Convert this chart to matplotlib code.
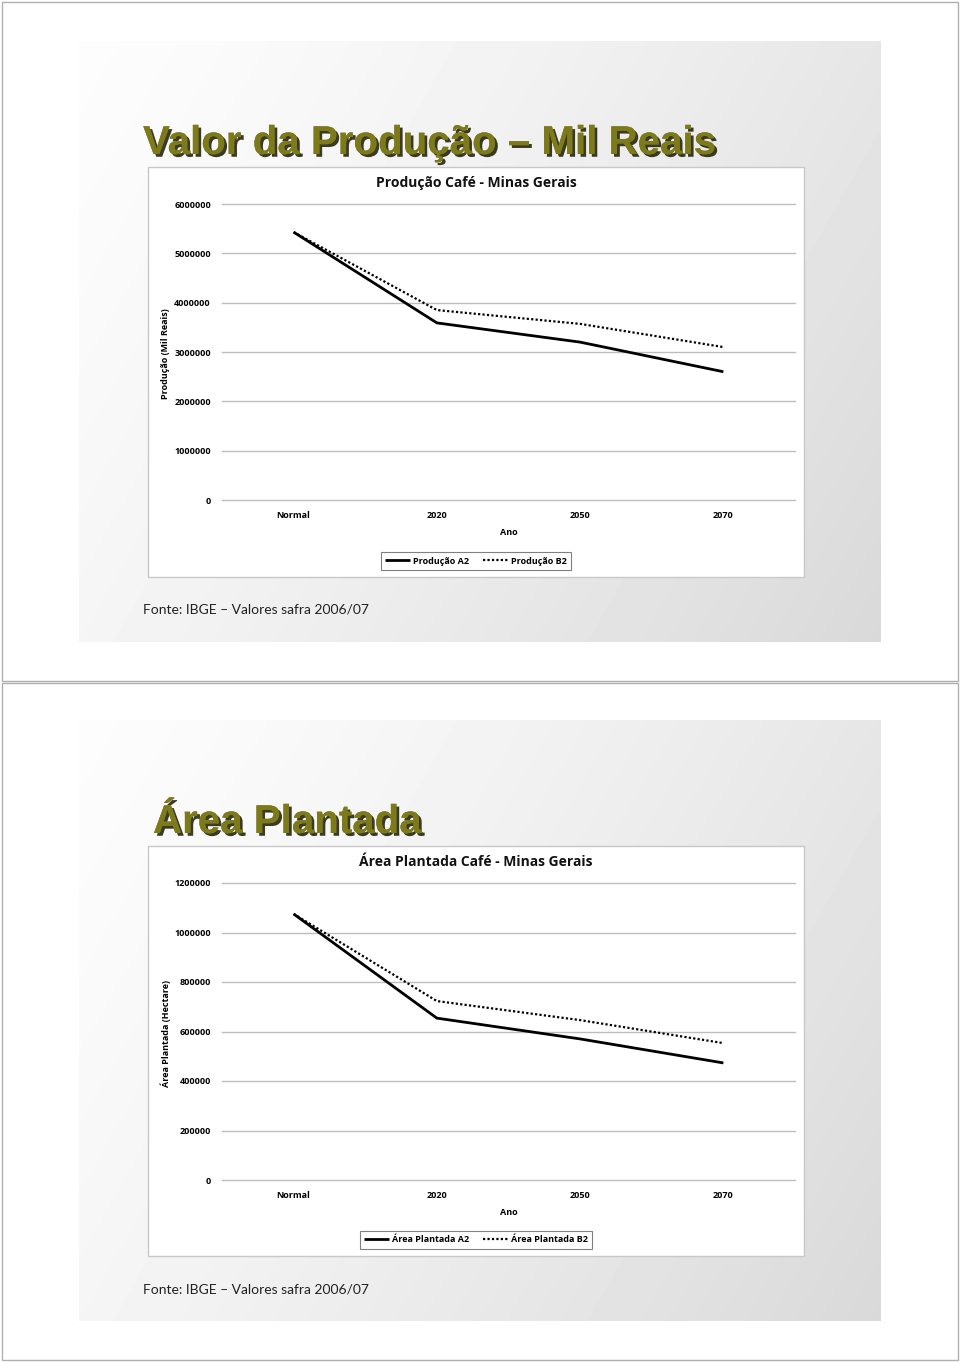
import numpy as np
import matplotlib
matplotlib.use('Agg')
import matplotlib.pyplot as plt
import matplotlib.patheffects as pe
from matplotlib.patches import Rectangle

# Data
categorias = ['Normal', '2020', '2050', '2070']
producao_a2 = [5430000, 3590000, 3200000, 2600000]
producao_b2 = [5430000, 3850000, 3570000, 3100000]
area_a2 = [1075000, 654000, 570000, 473000]
area_b2 = [1075000, 723000, 646000, 553000]

ticks_prod = [0, 1000000, 2000000, 3000000, 4000000, 5000000, 6000000]
ticks_area = [0, 200000, 400000, 600000, 800000, 1000000, 1200000]

W, H = 960, 1362
fig = plt.figure(figsize=(W / 100, H / 100), dpi=100)

# background axes in pixel coordinates
bg = fig.add_axes([0, 0, 1, 1], zorder=-1)
bg.set_xlim(0, W)
bg.set_ylim(H, 0)
bg.axis('off')

# page frames
bg.add_patch(Rectangle((2, 2), 956, 679, fill=False, edgecolor='#b0b0b0', lw=1))
bg.add_patch(Rectangle((2, 683), 956, 677, fill=False, edgecolor='#b0b0b0', lw=1))

# gray gradient for each slide
gx, gy = np.meshgrid(np.linspace(0, 1, 200), np.linspace(0, 1, 200))
grad = 0.99 - 0.14 * (0.7 * gx + 0.3 * gy) ** 1.3
for top in (41, 720):
    bg.imshow(grad, cmap='gray', vmin=0, vmax=1, extent=(79, 881, top + 601, top),
              aspect='auto', interpolation='bilinear')

titulos = ['Valor da Produção – Mil Reais', 'Área Plantada']
titulo_pos = [(143, 143), (153, 822)]
sombra = [pe.withSimplePatchShadow(offset=(2, -2), shadow_rgbFace='#1a1a00', alpha=0.85),
          pe.Normal()]
for t, (x, y) in zip(titulos, titulo_pos):
    bg.text(x, y, t, fontsize=29, fontweight='bold', family='Liberation Sans',
            color='#7d7a1c', va='center', ha='left', path_effects=sombra)

# chart boxes
for top in (167, 846):
    bg.add_patch(Rectangle((148, top), 656, 410, facecolor='white', edgecolor='#c8c8c8', lw=1))

for y in (610, 1290):
    bg.text(143, y, 'Fonte: IBGE – Valores safra 2006/07', fontsize=10, family='Lato',
            color='#222222', va='center', ha='left')

graficos = [
    (producao_a2, producao_b2, ticks_prod, 500, 296, 183, 'Produção Café - Minas Gerais',
     'Produção (Mil Reais)', ['Produção A2', 'Produção B2'], 561),
    (area_a2, area_b2, ticks_area, 1180, 297, 862, 'Área Plantada Café - Minas Gerais',
     'Área Plantada (Hectare)', ['Área Plantada A2', 'Área Plantada B2'], 1240),
]

fonte = 'Open Sans'
x = np.arange(len(categorias))
for a2, b2, ticks, base, alt, ty, titulo, ylab, nomes, ly in graficos:
    ax = fig.add_axes([222 / W, 1 - base / H, 573 / W, alt / H], zorder=1)
    ax.patch.set_alpha(0)
    l1, = ax.plot(x, a2, color='black', lw=2, solid_capstyle='butt')
    l2, = ax.plot(x, b2, color='black', lw=1.6, linestyle=(0, (1, 1)))
    ax.set_xlim(-0.5, 3.5)
    ax.set_ylim(ticks[0], ticks[-1])
    ax.set_yticks(ticks)
    ax.set_yticklabels([str(t) for t in ticks], fontsize=6.5, fontweight='bold', family=fonte)
    ax.set_xticks(x)
    ax.set_xticklabels(categorias, fontsize=6.5, fontweight='bold', family=fonte)
    ax.tick_params(length=0, pad=8)
    ax.grid(axis='y', color='#bdbdbd', lw=1)
    for g in ax.get_ygridlines():
        g.set_clip_on(False)
    ax.set_axisbelow(True)
    for s in ax.spines.values():
        s.set_visible(False)
    ax.set_xlabel('Ano', fontsize=6.5, fontweight='bold', family=fonte, labelpad=6)
    bg.text(476, ty, titulo, fontsize=10, fontweight='bold', family=fonte,
            ha='center', va='center', color='#111111')
    bg.text(166, (base + base - alt) / 2 + 2, ylab, fontsize=6.5, fontweight='bold', family=fonte,
            rotation=90, ha='center', va='center')
    leg = fig.legend([l1, l2], nomes, loc='center', bbox_to_anchor=(476 / W, 1 - ly / H),
                     ncol=2, fancybox=False, edgecolor='#808080', framealpha=1,
                     prop={'family': fonte, 'weight': 'bold', 'size': 6.5},
                     handlelength=2.8, columnspacing=1.6, borderpad=0.45, handletextpad=0.3,
                     borderaxespad=0.0, handleheight=0.6)
    leg.get_frame().set_linewidth(0.8)

fig.savefig('out.png', dpi=100)
